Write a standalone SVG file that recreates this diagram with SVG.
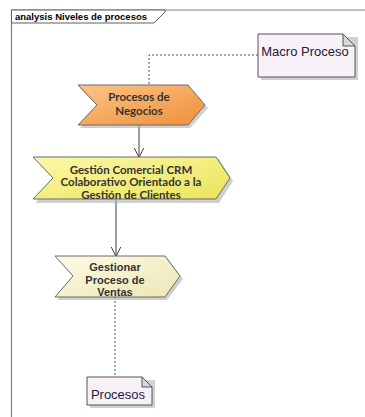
<svg xmlns="http://www.w3.org/2000/svg" width="365" height="417" viewBox="0 0 365 417">
  <style>
    .frame { fill: none; stroke: #808080; stroke-width: 1.2; }
    .tab { fill: #ffffff; stroke: #606060; stroke-width: 1; }
    .tabtext { font-family: "Liberation Sans", Arial, sans-serif; font-size: 9.5px; font-weight: bold; fill: #000; }
    .proc { stroke: #6a6a6a; stroke-width: 1; }
    .shadow { fill: #b0b0b0; opacity: 0.6; }
    .ptext { font-family: Lato, "Open Sans", sans-serif; font-size: 11.5px; font-weight: bold; fill: #333; text-anchor: middle; }
    .atext { font-family: "Liberation Sans", Arial, sans-serif; font-size: 11px; font-weight: bold; fill: #333; text-anchor: middle; }
    .note { fill: #f8f2f8; stroke: #555; stroke-width: 1; }
    .fold { fill: #d8d8d8; stroke: #555; stroke-width: 1; }
    .ntext { font-family: "Liberation Sans", Arial, sans-serif; font-size: 13px; fill: #1a1a3a; text-anchor: middle; }
    .flow { fill: none; stroke: #404040; stroke-width: 1; }
    .dotted { fill: none; stroke: #505050; stroke-width: 1; stroke-dasharray: 2 2; }
  </style>
  <defs>
    <linearGradient id="gOrange" x1="0" y1="0" x2="1" y2="1">
      <stop offset="0" stop-color="#fcc487"/>
      <stop offset="1" stop-color="#ef8f38"/>
    </linearGradient>
    <linearGradient id="gYellow" x1="0" y1="0" x2="1" y2="1">
      <stop offset="0" stop-color="#fbf8a8"/>
      <stop offset="1" stop-color="#ece35a"/>
    </linearGradient>
    <linearGradient id="gPale" x1="0" y1="0" x2="1" y2="1">
      <stop offset="0" stop-color="#fdfbe6"/>
      <stop offset="1" stop-color="#ede6b4"/>
    </linearGradient>
    <marker id="open" viewBox="0 0 10 10" refX="9.5" refY="5" markerWidth="10" markerHeight="10" markerUnits="userSpaceOnUse" orient="auto">
      <path d="M0,0 L10,5 L0,10" fill="none" stroke="#404040" stroke-width="1"/>
    </marker>
  </defs>

  <!-- diagram frame -->
  <g id="frame">
    <path class="frame" d="M11.5,417 L11.5,10 L365,10"/>
    <path class="tab" d="M11.5,10 L165,10 L165,12 L154,23 L11.5,23 Z"/>
    <text class="tabtext" x="15" y="20">analysis Niveles de procesos</text>
  </g>

  <!-- connectors -->
  <g id="connectors">
    <path class="dotted" d="M258,55 L149,55 L149,85"/>
    <path class="flow" d="M139,125 L139,157" marker-end="url(#open)"/>
    <path class="flow" d="M116,200 L116,256" marker-end="url(#open)"/>
    <path class="dotted" d="M115,297 L115,377"/>
  </g>

  <g id="procesos-de-negocios">
    <path class="shadow" d="M80,88 L190,88 L208,108 L190,128 L80,128 L99,108 Z"/>
    <path class="proc" fill="url(#gOrange)" d="M78,85 L188,85 L205,105 L188,125 L78,125 L97,105 Z"/>
    <text class="ptext" x="139" y="101">Procesos de</text>
    <text class="ptext" x="139" y="115">Negocios</text>
  </g>

  <g id="gestion-comercial-crm">
    <path class="shadow" d="M35,159 L219,159 L233,181 L219,203 L35,203 L56,181 Z"/>
    <path class="proc" fill="url(#gYellow)" d="M33,157 L216,157 L230,178 L216,199 L33,199 L53,178 Z"/>
    <text class="ptext" x="131" y="173.5">Gestión Comercial CRM</text>
    <text class="ptext" x="131" y="186">Colaborativo Orientado a la</text>
    <text class="ptext" x="131" y="198.5">Gestión de Clientes</text>
  </g>

  <g id="gestionar-proceso-ventas">
    <path class="shadow" d="M57,258 L167,258 L183,279 L167,300 L57,300 L76,279 Z"/>
    <path class="proc" fill="url(#gPale)" d="M55,256 L165,256 L180,276 L165,297 L55,297 L73,276 Z"/>
    <text class="atext" x="115" y="271">Gestionar</text>
    <text class="atext" x="115" y="283.5">Proceso de</text>
    <text class="atext" x="115" y="296">Ventas</text>
  </g>

  <g id="macro-proceso">
    <path class="shadow" d="M261,37 L358,37 L358,80 L261,80 Z"/>
    <path class="note" d="M258,34 L343,34 L355,46 L355,77 L258,77 Z"/>
    <path class="fold" d="M343,34 L343,46 L355,46 Z"/>
    <text class="ntext" x="305" y="56">Macro Proceso</text>
  </g>

  <g id="procesos">
    <path class="shadow" d="M90,380 L155,380 L155,408 L90,408 Z"/>
    <path class="note" d="M87,377 L142,377 L152,387 L152,405 L87,405 Z"/>
    <path class="fold" d="M142,377 L142,387 L152,387 Z"/>
    <text class="ntext" x="118" y="399">Procesos</text>
  </g>
</svg>
